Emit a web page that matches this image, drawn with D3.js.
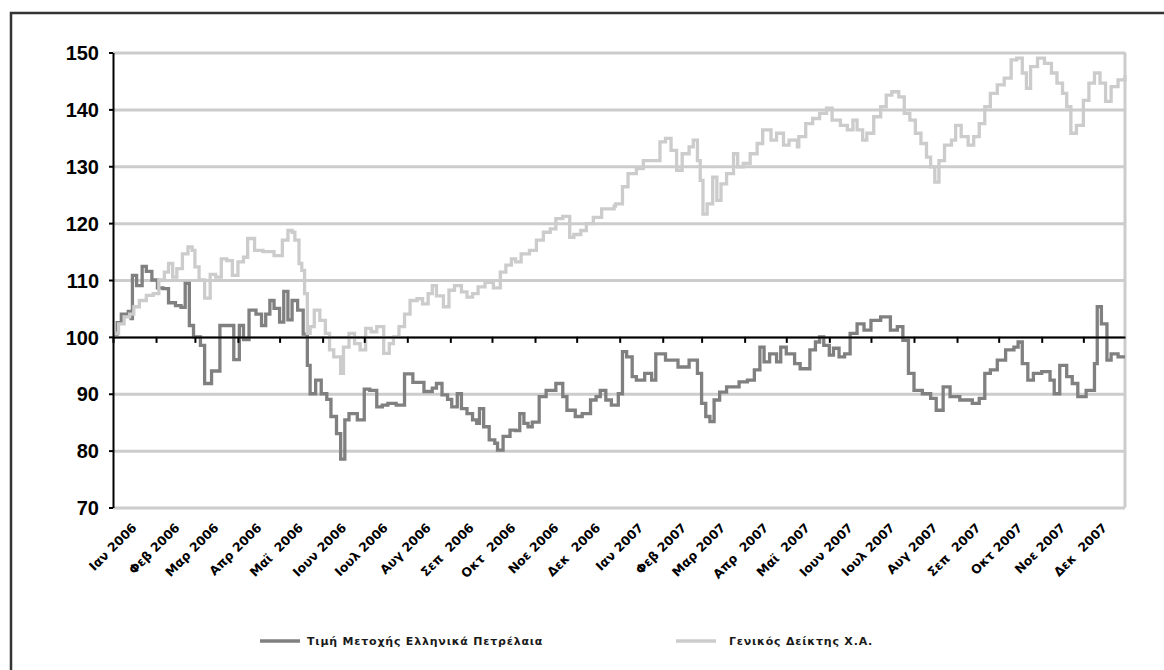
<!DOCTYPE html>
<meta charset="utf-8">
<style>
	body { margin: 0; background: #fff; }
	svg { display: block; }
	.ylab text { font: bold 20px "Liberation Sans", Arial, sans-serif; fill: #000; }
	.mlab { font: bold 12.5px "DejaVu Sans", sans-serif; fill: #000; white-space: pre; }
	.legend text { font: bold 11px "DejaVu Sans", sans-serif; fill: #1a1a1a; letter-spacing: 0.8px; }
</style>
<svg width="1164" height="670" class="graph"></svg>
<script src="https://cdn.jsdelivr.net/npm/d3@7"></script>
<script>
// days since 1 Jan 2006
var petDays = [0,3,6,11,13,14,17,21,24,28,32,36,40,45,49,52,55,58,63,66,71,77,82,87,91,94,98,103,107,110,113,116,120,123,126,129,133,137,140,142,146,150,154,157,161,164,167,170,176,181,185,190,194,198,204,210,216,224,230,233,237,241,244,248,251,255,259,262,264,267,271,275,277,281,286,290,293,296,299,302,307,312,319,324,327,333,338,344,348,351,355,359,364,367,370,374,377,383,388,391,398,407,415,421,424,427,430,433,437,442,451,457,462,466,469,473,478,481,485,491,495,502,506,509,512,516,519,523,527,531,536,541,546,553,560,565,569,573,577,583,589,593,598,603,610,619,624,628,632,637,643,649,652,655,659,663,669,675,678,682,687,691,695,701,707,709,712,716,719,724,729];
var petVals = [100.5,102.5,104,104.5,103.2,110.8,109,112.4,111.5,110,108.6,108.5,106,105.5,105.2,109.4,102,100,98.5,91.8,94,102,102,96,102,99.5,104.7,104,102,104,106.4,105,102.6,108,103,106.4,104.7,100.5,95,90,92.4,90,89,86,83,78.5,85.4,86.5,85.4,90.8,90.6,87.7,88,88.3,88,93.5,92,90.4,91,91.8,89.8,89,87.7,90,87.4,86.5,85.4,84.8,87.4,84.2,81.9,81.3,80.1,82.5,83.6,83.5,86.5,84.8,84.2,85,89.5,90.6,91.8,89.5,87.1,86,86.5,88.9,89.5,90.6,88.9,88,90,97.4,96.5,93,92.4,93.6,92.4,97,95.9,94.7,95.9,93.6,88.3,86,85.1,88.9,90.3,91.2,92.1,92.4,94.2,98.2,95.6,97,95.6,98.2,97,95.3,94.4,97.7,99.1,100,98.5,96.8,98,96.5,97,100.6,102.3,101.2,102.9,103.5,101.2,101.8,99.4,93.6,90.6,90,89.2,87.1,91.2,89.5,88.9,88.3,89.2,93.6,94.2,95.9,97.7,98.2,99.1,95.3,92.4,93.6,93.9,92.4,90,95,93,91.8,89.5,90.6,95.3,105.3,102.3,95.9,97,96.5,96.5];

var gdDays = [0,4,8,12,15,19,24,29,33,37,40,43,46,50,54,57,59,62,66,70,74,78,82,86,90,94,97,102,108,116,122,126,129,131,134,136,138,140,142,145,149,153,156,159,164,166,170,174,178,182,186,190,195,199,202,206,210,214,219,223,227,230,233,238,242,246,251,255,259,263,268,274,279,283,287,290,294,300,305,310,315,319,324,329,332,337,341,346,352,361,362,367,371,377,382,389,394,398,402,406,410,415,418,421,423,425,428,432,435,438,442,447,450,454,459,464,468,471,474,478,483,487,493,494,499,504,509,514,518,524,529,533,536,540,543,548,553,557,561,566,570,574,578,582,586,589,592,595,599,604,607,611,616,620,624,628,632,637,642,647,651,655,658,661,666,671,676,680,684,687,690,694,699,703,707,711,715,719,724,729];
var gdVals = [100.6,102.3,103.5,104,105.3,106.4,107.3,107.6,110,111.4,112.9,110.5,112,114.6,115.8,115.2,112.3,110,106.8,111,110.5,113.7,113.4,110.8,113.2,114,117.3,115.2,115,114.3,117,118.7,118.4,117,112.9,111.7,107.6,100.6,101.8,104.7,102.9,100.6,97.7,96.5,93.6,98.2,100.6,98.8,97.7,101.5,100.9,101.8,97.1,98.8,100,101.8,104,106.4,106.7,105.8,107.6,109,107.2,105.3,108.2,109,107.9,107,107.6,108.8,109.6,108.6,111.4,112.6,113.7,113.2,114.6,115.2,117,118.4,119,120.8,121.2,117.5,118,118.7,119.9,121,122.5,123,123.4,126.4,128.7,129.6,131,131,134.3,134.9,132.8,129.3,132.2,133.4,134.6,131,127.5,121.6,123.4,128.1,124,126.9,128.7,132.2,129.9,130.5,132.2,134,136.4,136.4,134.6,135.8,133.7,134.6,133.4,135.2,137.5,138.4,139.3,140.2,138.1,137.2,136.4,138.1,136.4,134.6,135.8,138.7,140.5,142.5,143.1,142.2,139.3,138.1,135.8,134,131.6,129.9,127.2,131,133.7,134.6,137.2,135.2,133.7,135.2,137.5,140.5,142.8,144.3,145.5,148.7,149,146.4,143.7,147.5,149,148.1,146.4,144.6,142.8,140.5,135.8,137.2,141.6,144.6,146.4,144.6,141.4,144,145.2,146];

var monthLabels = ["Ιαν 2006","Φεβ 2006","Μαρ 2006","Απρ 2006","Μαϊ  2006","Ιουν 2006","Ιουλ 2006","Αυγ 2006","Σεπ  2006","Οκτ  2006","Νοε 2006","Δεκ  2006",
	"Ιαν 2007","Φεβ 2007","Μαρ 2007","Απρ  2007","Μαϊ  2007","Ιουν 2007","Ιουλ 2007","Αυγ 2007","Σεπ  2007","Οκτ 2007","Νοε 2007","Δεκ  2007"];
var yTicks = [70, 80, 90, 100, 110, 120, 130, 140, 150];
var seriesNames = ["Τιμή Μετοχής Ελληνικά Πετρέλαια", "Γενικός Δείκτης Χ.Α."];
var seriesColors = ["#808080", "#cccccc"];

var svg = d3.select("svg"),
	plotL = 113, plotR = 1125, plotT = 52.5, plotB = 507.5;

var t0 = Date.UTC(2006, 0, 1);
function dayToDate(d) { return new Date(t0 + d * 864e5); }

var x = d3.scaleUtc().domain([new Date(t0), new Date(Date.UTC(2007, 11, 31))]).range([plotL, plotR]),
	y = d3.scaleLinear().domain([70, 150]).range([plotB, plotT]);

// outer frame
svg.append("rect")
	.attr("x", 11).attr("y", 13).attr("width", 1200).attr("height", 700)
	.attr("fill", "none").attr("stroke", "#333").attr("stroke-width", 2.5);

// grid
var grid = svg.append("g").attr("transform", "translate(" + plotL + ",0)")
	.call(d3.axisLeft(y).tickValues(yTicks).tickSize(-(plotR - plotL)).tickFormat(""));
grid.select(".domain").remove();
grid.selectAll("line").attr("stroke", "#cccccc").attr("stroke-width", 3);

svg.append("line")
	.attr("x1", plotR).attr("x2", plotR).attr("y1", plotT).attr("y2", plotB)
	.attr("stroke", "#cccccc").attr("stroke-width", 3);

// series
var series = [
	petDays.map(function(d, i) { return {time: dayToDate(d), val: petVals[i]}; }),
	gdDays.map(function(d, i) { return {time: dayToDate(d), val: gdVals[i]}; })
];

var line = d3.line()
	.curve(d3.curveStepAfter)
	.x(function(d) { return x(d.time); })
	.y(function(d) { return y(d.val); });

series.forEach(function(s, i) {
	svg.append("path")
		.datum(s)
		.attr("fill", "none")
		.attr("stroke", seriesColors[i])
		.attr("stroke-width", 3.3)
		.attr("d", line);
});

// x axis crossing at 100
var xAxis = svg.append("g")
	.attr("transform", "translate(0," + y(100) + ")")
	.call(d3.axisBottom(x).ticks(d3.utcMonth.every(1)).tickSize(6).tickSizeOuter(0).tickFormat(""));
xAxis.select(".domain").attr("stroke", "#000").attr("stroke-width", 2);
xAxis.selectAll(".tick line").attr("stroke", "#000").attr("stroke-width", 2);

// y axis
var yAxis = svg.append("g")
	.attr("class", "ylab")
	.attr("transform", "translate(" + plotL + ",0)")
	.call(d3.axisLeft(y).tickValues(yTicks).tickSize(4).tickSizeOuter(0).tickPadding(10));
yAxis.select(".domain").attr("stroke", "#000").attr("stroke-width", 2);
yAxis.selectAll(".tick line").attr("stroke", "#000").attr("stroke-width", 2);
yAxis.selectAll("text").attr("dy", "0.36em");

// month labels, low position
svg.append("g").selectAll("text")
	.data(monthLabels)
	.enter().append("text")
	.attr("class", "mlab")
	.attr("text-anchor", "end")
	.attr("transform", function(d, i) {
		return "translate(" + (x(new Date(Date.UTC(2006, i, 15))) + 5) + "," + (plotB + 21) + ") rotate(-45)";
	})
	.text(function(d) { return d; });

// legend
var legend = svg.append("g").attr("class", "legend");
seriesNames.forEach(function(name, i) {
	var g = legend.append("g").attr("transform", "translate(" + (260 + i * 416) + ",641)");
	g.append("line").attr("x1", 0).attr("x2", 40).attr("stroke", seriesColors[i]).attr("stroke-width", 3.5);
	g.append("text").attr("x", 47 + i * 6).attr("dy", "0.35em").text(name);
});
</script>
